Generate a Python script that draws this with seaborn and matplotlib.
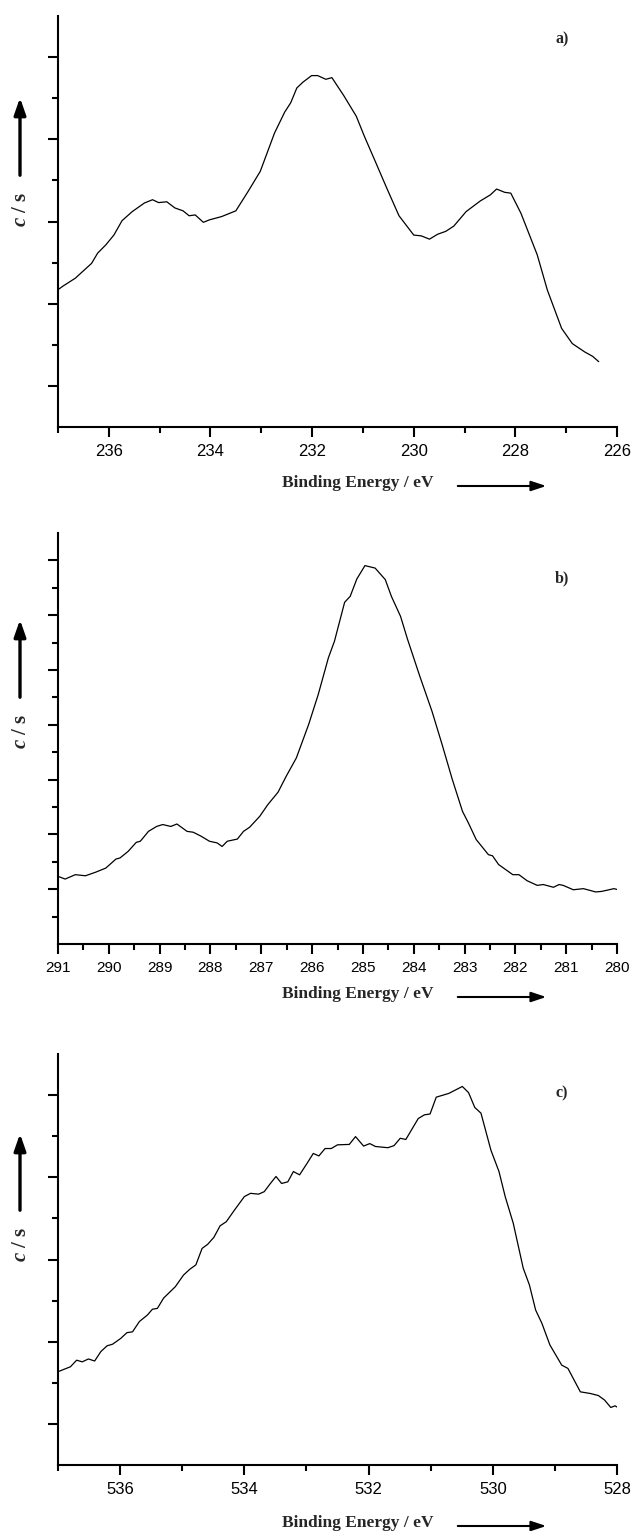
import numpy as np
import pandas as pd
import seaborn as sns
import matplotlib
matplotlib.use("Agg")
import matplotlib.pyplot as plt
from matplotlib.ticker import MultipleLocator, NullFormatter, FuncFormatter
from matplotlib.patches import FancyArrowPatch

# ---------------- data ----------------
energy_a = [237.1, 236.9, 236.66, 236.34, 236.22, 236.06, 235.9, 235.74, 235.54, 235.3, 235.14, 235.02,
            234.86, 234.7, 234.54, 234.42, 234.3, 234.14, 234.02, 233.78, 233.5, 233.26, 233.02, 232.74,
            232.54, 232.42, 232.3, 232.18, 232.01, 231.89, 231.73, 231.61, 231.37, 231.13, 230.97, 230.77,
            230.53, 230.29, 230.0, 229.85, 229.69, 229.53, 229.37, 229.21, 228.97, 228.69, 228.49, 228.37,
            228.21, 228.09, 227.89, 227.57, 227.37, 227.09, 226.88, 226.64, 226.48, 226.36]
counts_a = [3.25, 3.43, 3.62, 3.98, 4.23, 4.43, 4.67, 5.02, 5.24, 5.45, 5.53, 5.46,
            5.48, 5.33, 5.26, 5.14, 5.16, 4.98, 5.04, 5.12, 5.26, 5.73, 6.22, 7.15,
            7.66, 7.89, 8.25, 8.39, 8.55, 8.55, 8.46, 8.50, 8.05, 7.56, 7.07, 6.50,
            5.81, 5.14, 4.67, 4.65, 4.57, 4.69, 4.76, 4.89, 5.24, 5.50, 5.65, 5.79,
            5.71, 5.69, 5.20, 4.19, 3.33, 2.40, 2.03, 1.83, 1.72, 1.59]

energy_b = [291.0, 290.86, 290.66, 290.46, 290.26, 290.06, 289.86, 289.78, 289.62, 289.46, 289.38, 289.22,
            289.06, 288.94, 288.78, 288.66, 288.46, 288.34, 288.18, 288.02, 287.87, 287.77, 287.67, 287.47,
            287.35, 287.23, 287.03, 286.87, 286.67, 286.51, 286.31, 286.07, 285.88, 285.68, 285.56, 285.36,
            285.25, 285.12, 284.96, 284.76, 284.56, 284.44, 284.26, 284.12, 283.88, 283.64, 283.44, 283.24,
            283.04, 282.93, 282.77, 282.53, 282.45, 282.33, 282.05, 281.93, 281.77, 281.57, 281.45, 281.25,
            281.14, 281.06, 280.86, 280.66, 280.42, 280.3, 280.06, 280.0]
counts_b = [2.47, 2.37, 2.53, 2.49, 2.62, 2.77, 3.10, 3.14, 3.38, 3.71, 3.75, 4.11,
            4.29, 4.36, 4.29, 4.38, 4.11, 4.08, 3.93, 3.75, 3.69, 3.56, 3.75, 3.83,
            4.11, 4.26, 4.66, 5.09, 5.54, 6.12, 6.79, 8.00, 9.10, 10.44, 11.05, 12.47,
            12.69, 13.32, 13.81, 13.72, 13.30, 12.69, 11.96, 11.11, 9.77, 8.49, 7.27, 6.00,
            4.84, 4.44, 3.81, 3.26, 3.22, 2.90, 2.53, 2.53, 2.31, 2.14, 2.17, 2.07,
            2.17, 2.14, 1.98, 2.02, 1.90, 1.92, 2.02, 1.99]

energy_c = [537.0, 536.8, 536.7, 536.61, 536.51, 536.41, 536.31, 536.21, 536.12, 535.99, 535.89, 535.8,
            535.69, 535.56, 535.48, 535.4, 535.3, 535.11, 534.98, 534.88, 534.78, 534.68, 534.59, 534.49,
            534.39, 534.29, 534.16, 534.0, 533.9, 533.77, 533.68, 533.58, 533.49, 533.4, 533.3, 533.21,
            533.11, 532.99, 532.89, 532.8, 532.7, 532.6, 532.5, 532.31, 532.21, 532.08, 531.98, 531.89,
            531.69, 531.59, 531.49, 531.4, 531.2, 531.1, 531.01, 530.91, 530.71, 530.49, 530.39, 530.29,
            530.19, 530.03, 529.9, 529.8, 529.67, 529.51, 529.41, 529.31, 529.21, 529.08, 528.89, 528.79,
            528.59, 528.43, 528.3, 528.2, 528.1, 528.03, 528.0]
counts_c = [2.27, 2.39, 2.55, 2.51, 2.58, 2.53, 2.76, 2.90, 2.94, 3.08, 3.22, 3.24,
            3.49, 3.65, 3.79, 3.81, 4.06, 4.34, 4.62, 4.76, 4.87, 5.27, 5.37, 5.54,
            5.82, 5.92, 6.20, 6.53, 6.61, 6.59, 6.65, 6.85, 7.02, 6.85, 6.89, 7.14,
            7.06, 7.34, 7.58, 7.52, 7.70, 7.70, 7.79, 7.80, 7.99, 7.76, 7.82, 7.75,
            7.72, 7.77, 7.95, 7.92, 8.43, 8.52, 8.54, 8.95, 9.04, 9.21, 9.06, 8.70,
            8.56, 7.66, 7.14, 6.53, 5.88, 4.79, 4.38, 3.77, 3.45, 2.92, 2.43, 2.35,
            1.78, 1.74, 1.69, 1.58, 1.40, 1.44, 1.41]

panel_labels = ["a)", "b)", "c)"]
x_label = "Binding Energy / eV"
y_label = r"$\mathit{c}\ /\ \mathrm{s}$"

# ---------------- figure ----------------
sns.set_theme(style="ticks")
plt.rcParams['font.family'] = ['Liberation Sans', 'DejaVu Sans']
plt.rcParams['mathtext.fontset'] = 'custom'
plt.rcParams['mathtext.rm'] = 'Liberation Serif:bold'
plt.rcParams['mathtext.it'] = 'Liberation Serif:bold:italic'
plt.rcParams['mathtext.bf'] = 'Liberation Serif:bold'

W, H = 631, 1531
fig = plt.figure(figsize=(W / 100, H / 100), dpi=100)


def fx(px):
    return px / W


def fy(py):
    return 1 - py / H


panels = [
    dict(E=energy_a, C=counts_a, top=16, bot=427, xlim=(237, 226), ylim=(0, 10),
         xmaj=2, xmin=1, ymaj_off=1, tsize=12, base=487, ytxt=209, yarr=(178, 95), lab_y=39),
    dict(E=energy_b, C=counts_b, top=533, bot=944, xlim=(291, 280), ylim=(0, 15),
         xmaj=1, xmin=0.5, ymaj_off=0, tsize=11, base=998, ytxt=731, yarr=(700, 617), lab_y=578),
    dict(E=energy_c, C=counts_c, top=1054, bot=1465, xlim=(537, 528), ylim=(0, 10),
         xmaj=2, xmin=1, ymaj_off=1, tsize=12, base=1527, ytxt=1244, yarr=(1213, 1131), lab_y=1093),
]

left, right = 58, 617
for p, plab in zip(panels, panel_labels):
    ax = fig.add_axes([fx(left), fy(p['bot']), fx(right - left), (p['bot'] - p['top']) / H])
    df = pd.DataFrame({"E": p['E'], "C": p['C']})
    sns.lineplot(data=df, x="E", y="C", ax=ax, color="black", lw=0.9, sort=False)
    ax.set_xlim(*p['xlim'])
    ax.set_ylim(*p['ylim'])
    ax.set_xlabel("")
    ax.set_ylabel("")
    for s in ['top', 'right']:
        ax.spines[s].set_visible(False)
    for s in ['left', 'bottom']:
        ax.spines[s].set_linewidth(1.5)
        ax.spines[s].set_color("black")
    ax.xaxis.set_major_locator(MultipleLocator(p['xmaj']))
    ax.xaxis.set_minor_locator(MultipleLocator(p['xmin']))
    ax.xaxis.set_major_formatter(FuncFormatter(lambda v, pos: f"{v:.0f}"))
    ymax = p['ylim'][1]
    ymaj = [v for v in range(1, ymax) if (v - p['ymaj_off']) % 2 == 0]
    ymin = [v for v in range(1, ymax) if v not in ymaj]
    ax.set_yticks(ymaj)
    ax.set_yticks(ymin, minor=True)
    ax.yaxis.set_major_formatter(NullFormatter())
    ax.tick_params(axis='both', which='major', direction='out', length=7, width=1.5,
                   color='black', labelsize=p['tsize'], labelcolor='black', pad=5)
    ax.tick_params(axis='both', which='minor', direction='out', length=4.5, width=1.5, color='black')
    ax.patch.set_alpha(0)

    # panel letter
    fig.text(fx(562), fy(p['lab_y']), plab, ha='center', va='center', fontsize=11.5,
             fontweight='bold', family='Liberation Serif')
    # x label + arrow
    fig.text(fx(358), fy(p['base']), x_label, ha='center', va='baseline', fontsize=12.5,
             fontweight='bold', family='Liberation Serif')
    fig.add_artist(FancyArrowPatch(
        (fx(455), fy(p['base'] - 1)), (fx(549), fy(p['base'] - 1)), transform=fig.transFigure,
        arrowstyle='-|>,head_length=9,head_width=3', lw=1.5, color='black', mutation_scale=1))
    # y label + arrow
    fig.text(fx(20), fy(p['ytxt']), y_label, ha='center', va='center', fontsize=15,
             rotation=90)
    fig.add_artist(FancyArrowPatch(
        (fx(20), fy(p['yarr'][0])), (fx(20), fy(p['yarr'][1])), transform=fig.transFigure,
        arrowstyle='-|>,head_length=10,head_width=3.5', lw=2.4, color='black', mutation_scale=1))

fig.savefig("out.png", dpi=100)
